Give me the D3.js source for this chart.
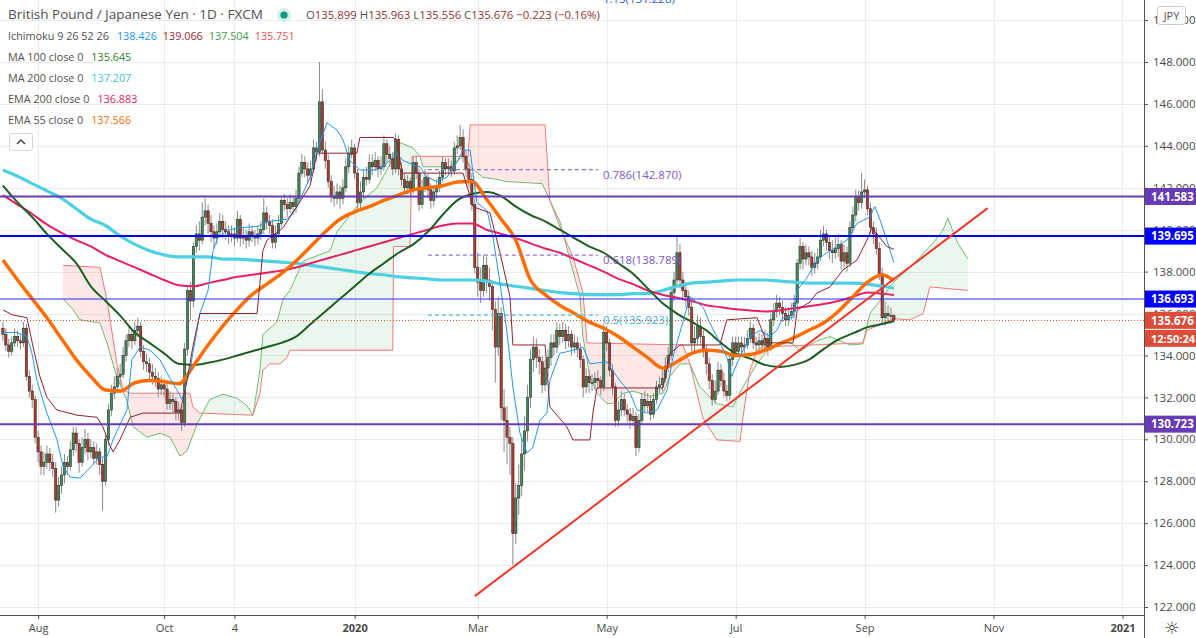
<!DOCTYPE html>
<html><head><meta charset="utf-8"><title>GBPJPY</title>
<script src="https://cdn.jsdelivr.net/npm/d3@7/dist/d3.min.js"></script>
<style>html,body{margin:0;padding:0;background:#fff;overflow:hidden}svg{display:block;font-family:"Open Sans","Noto Sans",sans-serif}</style>
</head><body><svg id="chart" width="1196" height="638"></svg>
<script>
// ---------------- DATA ----------------
const firstOpen = 135.3;
const closes = [
135.0,134.5,134.2,134.6,134.9,134.7,134.6,135.3,133.0,132.3,
131.9,130.1,129.4,128.7,128.9,129.3,128.9,128.6,127.1,127.8,
128.3,128.9,128.7,129.5,130.3,129.8,128.9,129.6,130.0,129.4,
129.6,129.1,129.4,128.8,128.0,130.0,131.4,132.2,132.5,133.0,
133.1,134.0,134.7,135.0,134.7,135.2,135.4,134.2,133.7,133.6,
133.2,133.0,132.9,132.4,132.6,132.4,131.7,131.9,131.8,131.3,
131.4,130.8,134.3,137.1,136.6,139.2,139.8,139.5,140.6,140.9,
140.3,139.9,139.6,139.9,140.4,140.0,139.9,139.7,139.8,139.6,
140.5,139.6,139.7,139.5,139.9,139.7,139.6,139.8,140.0,140.8,
140.4,140.2,139.4,139.8,140.3,141.4,141.2,141.0,141.3,141.1,
141.5,142.7,143.2,142.9,142.6,142.9,143.9,143.7,146.1,143.8,
143.3,142.3,141.6,141.5,141.8,141.5,142.0,143.0,143.6,143.9,
142.7,141.3,141.8,142.5,142.4,143.2,143.0,143.3,142.9,143.0,
144.1,143.6,143.4,142.9,144.3,142.9,142.4,142.0,142.3,141.9,
143.2,142.7,141.2,142.0,142.5,141.9,141.4,141.8,142.0,142.5,
143.2,142.9,143.0,142.8,143.9,144.0,144.4,143.5,142.9,142.4,
141.2,138.2,137.5,137.1,138.3,137.6,137.3,136.2,134.4,136.0,
131.5,130.9,130.1,129.8,125.5,127.2,127.8,129.3,130.4,132.0,
133.8,134.4,133.9,133.7,132.6,133.4,133.9,134.6,134.4,135.2,
134.9,135.2,134.7,135.0,134.4,134.6,134.3,133.8,132.5,133.0,
132.7,132.7,132.9,132.8,132.5,135.1,134.6,133.3,132.5,130.9,
131.4,131.9,131.4,131.2,130.9,131.1,129.6,130.9,131.9,131.6,
131.8,131.2,131.9,132.5,132.6,132.9,133.5,134.0,137.0,137.6,
138.9,137.6,137.1,136.8,136.3,134.6,134.8,135.4,134.9,134.3,
133.6,132.8,131.9,132.3,133.3,132.8,132.3,132.1,133.8,134.6,
134.2,134.6,134.4,134.5,134.8,135.3,134.6,134.5,134.7,134.5,
134.8,134.4,135.7,136.1,136.5,136.3,136.0,135.7,135.9,136.1,
136.5,138.4,139.2,138.6,138.9,138.7,138.2,138.4,138.7,139.5,
139.8,139.4,139.0,138.9,139.1,139.3,138.5,138.9,138.4,140.1,
140.7,141.6,141.3,141.8,141.9,141.0,140.1,139.8,139.1,137.9,
135.8,136.0,135.9,135.899,135.676];
const highs = [
135.6,135.3,134.8,134.9,135.3,135.2,135.0,135.6,135.5,133.3,
132.6,132.1,130.4,129.7,129.4,129.7,129.6,129.3,128.9,128.2,
128.7,129.3,129.2,129.9,130.6,130.6,130.0,130.1,130.5,130.3,
130.0,129.9,129.8,129.6,129.1,130.3,131.7,132.6,133.0,133.4,
133.6,134.4,135.0,135.4,135.3,135.6,135.8,135.6,134.5,134.1,
133.9,133.6,133.4,133.2,133.0,132.9,132.7,132.3,132.2,132.0,
131.8,131.6,134.6,137.3,137.5,139.4,140.2,140.4,141.3,141.5,
141.2,140.7,140.2,140.3,140.8,140.7,140.4,140.2,140.2,140.1,
140.9,140.7,140.1,140.0,140.3,140.2,140.0,140.2,140.4,141.5,
141.1,140.7,140.5,140.2,140.7,141.6,141.7,141.5,141.7,141.6,
141.9,143.0,143.6,143.5,143.2,143.3,144.3,144.2,148.0,146.7,
144.2,143.6,142.6,142.1,142.2,142.1,142.4,143.4,144.0,144.3,
144.1,142.9,142.3,142.9,143.0,143.6,143.6,143.7,143.5,143.5,
144.5,144.3,144.0,143.7,144.6,144.5,143.2,142.7,142.6,142.5,
143.5,143.5,142.9,142.4,142.9,142.7,142.2,142.1,142.4,142.8,
143.5,143.4,143.4,143.3,144.2,144.5,145.0,144.8,143.8,143.2,
142.7,141.5,138.9,138.2,138.8,138.7,138.2,137.6,136.6,136.8,
136.3,132.4,131.6,130.6,130.1,127.9,128.8,130.1,131.1,132.6,
134.3,134.9,134.8,134.3,134.0,133.8,134.3,135.0,135.0,135.6,
135.5,135.6,135.5,135.4,135.2,135.0,134.9,134.6,134.0,133.4,
133.3,133.1,133.2,133.3,133.0,135.5,135.4,134.8,133.6,132.7,
131.8,132.3,132.2,131.7,131.5,131.5,131.3,131.2,132.2,132.3,
132.2,132.1,132.2,132.8,133.0,133.3,133.9,134.4,137.3,138.0,
139.7,139.3,138.0,137.5,137.1,136.6,135.4,135.9,135.8,135.2,
134.5,133.9,133.1,132.8,133.7,133.6,133.2,132.6,134.1,134.9,
134.9,134.9,134.9,134.9,135.2,135.6,135.5,134.9,135.1,135.0,
135.2,135.1,136.0,136.5,136.9,136.8,136.6,136.3,136.3,136.5,
136.9,138.6,139.6,139.4,139.3,139.2,139.0,138.9,139.1,140.0,
140.2,140.0,139.7,139.5,139.7,139.8,139.5,139.3,139.2,140.4,
141.1,141.9,141.9,142.7,142.4,142.1,141.3,140.4,140.1,139.4,
138.2,136.6,136.4,136.3,135.963];
const lows = [
134.7,134.2,133.9,134.0,134.4,134.4,134.3,134.4,132.8,132.0,
131.5,129.8,128.9,128.3,128.3,128.6,128.5,128.2,126.5,126.8,
127.4,127.9,128.3,128.5,129.2,129.4,128.4,128.7,129.3,129.0,
129.1,128.8,128.8,128.3,126.6,127.8,129.7,131.1,131.9,132.2,
132.6,132.9,133.7,134.4,134.3,134.5,134.9,133.9,133.3,133.2,
132.8,132.6,132.5,132.0,132.1,132.0,131.4,131.4,131.3,130.9,
130.9,130.4,130.6,134.0,135.7,136.3,138.9,139.0,139.3,140.2,
139.8,139.4,139.1,139.3,139.6,139.6,139.5,139.3,139.4,139.2,
139.4,139.2,139.3,139.1,139.2,139.4,139.2,139.3,139.5,139.8,
140.0,139.8,139.1,139.1,139.6,140.1,140.9,140.6,140.8,140.7,
140.8,141.3,142.5,142.5,142.2,142.3,142.7,143.3,143.5,143.6,
142.9,142.0,141.3,141.1,141.2,141.0,141.2,141.8,142.7,143.4,
142.4,140.8,141.0,141.5,142.1,142.2,142.6,142.8,142.5,142.6,
142.8,143.2,143.0,142.6,142.7,142.6,142.1,141.7,141.7,141.6,
141.7,142.4,140.9,141.0,141.8,141.5,141.0,141.1,141.5,141.8,
142.3,142.6,142.6,142.5,142.6,143.6,143.8,143.2,142.5,142.0,
140.9,137.9,136.8,136.5,136.8,137.0,136.6,135.2,132.7,134.0,
130.9,129.4,128.8,128.3,124.0,125.0,126.4,127.3,128.5,129.9,
131.5,133.2,133.4,133.1,132.2,132.3,133.0,133.5,134.0,134.1,
134.5,134.6,134.3,134.4,134.0,134.1,133.9,133.4,132.0,132.2,
132.2,132.3,132.4,132.4,132.1,132.3,134.2,133.0,132.1,130.6,
130.6,131.1,131.1,130.8,130.5,130.6,129.2,129.4,130.7,131.3,
131.3,130.9,131.0,131.7,132.2,132.3,132.7,133.2,133.8,136.6,
137.3,137.2,136.6,136.3,135.9,134.2,134.2,134.5,134.5,133.9,
133.1,132.4,131.6,131.7,132.1,132.5,132.0,131.8,131.9,133.5,
133.9,134.0,134.1,134.1,134.3,134.6,134.3,134.2,134.2,134.2,
134.3,134.0,134.2,135.4,135.8,135.9,135.6,135.4,135.4,135.7,
135.8,136.3,138.1,138.1,138.3,138.3,137.8,137.9,138.1,138.5,
139.2,139.0,138.6,138.4,138.6,138.7,138.1,138.2,138.0,138.2,
139.8,140.4,140.9,141.0,141.5,140.7,139.8,139.3,138.8,137.6,
135.5,135.4,135.5,135.5,135.556];

// moving averages, read every 5 bars (bar index given by sampleIdx)
const sampleIdx = [0,5,10,15,20,25,30,35,40,45,50,55,60,65,70,75,80,85,90,95,100,105,110,115,120,125,130,135,140,145,150,155,160,165,170,175,180,185,190,195,200,205,210,215,220,225,230,235,240,245,250,255,260,265,270,275,280,285,290,295,300,304];
const ma200 = [142.85,142.55,142.2,141.85,141.5,141.0,140.5,140.2,139.7,139.3,139.0,138.8,138.7,138.7,138.7,138.6,138.6,138.55,138.5,138.45,138.4,138.3,138.2,138.1,138.0,137.9,137.85,137.75,137.7,137.65,137.6,137.6,137.6,137.55,137.4,137.3,137.2,137.1,137.0,136.95,136.9,136.9,136.9,136.95,136.95,137.1,137.3,137.45,137.5,137.55,137.6,137.6,137.6,137.55,137.5,137.45,137.45,137.45,137.45,137.4,137.3,137.207];
const ema200 = [141.65,141.2,140.75,140.25,139.85,139.5,139.2,138.8,138.5,138.2,137.9,137.6,137.35,137.3,137.45,137.6,137.75,137.85,137.95,138.05,138.2,138.4,138.6,138.8,139.0,139.2,139.4,139.6,139.8,140.0,140.2,140.3,140.3,140.0,139.8,139.6,139.35,139.1,138.9,138.6,138.3,138.0,137.65,137.4,137.1,136.9,136.75,136.6,136.4,136.3,136.2,136.15,136.1,136.15,136.25,136.35,136.45,136.6,136.8,137.0,136.95,136.883];
const ma100 = [142.1,141.3,140.6,139.8,139.1,138.4,137.3,136.6,135.9,135.1,134.6,134.1,133.6,133.55,133.65,133.8,134.0,134.2,134.4,134.6,134.9,135.5,136.1,136.7,137.3,137.9,138.4,138.9,139.3,139.9,140.7,141.4,141.7,141.8,141.6,141.1,140.7,140.4,140.0,139.6,139.2,138.9,138.4,137.9,137.2,136.5,136.0,135.6,135.2,134.6,134.1,133.85,133.55,133.45,133.55,133.8,134.3,134.75,135.05,135.35,135.5,135.645];
const ema55 = [138.55,137.6,136.7,135.8,134.8,133.8,133.0,132.35,132.3,132.7,132.8,132.75,132.65,133.5,134.5,135.4,136.2,136.9,137.4,137.9,138.5,139.2,139.9,140.5,140.85,141.1,141.4,141.65,141.9,142.0,142.1,142.27,142.3,141.45,140.5,139.5,137.6,136.9,136.4,136.0,135.6,135.3,134.9,134.4,133.9,133.4,133.7,134.1,134.25,134.2,134.0,134.05,134.25,134.55,134.85,135.2,135.55,136.1,136.8,137.5,137.85,137.566];

// Ichimoku 9 26 52 26 : [bar index, price]
const tenkan = [[0,135.1],[4.8,135.1],[8.2,134.9],[9.9,134.1],[11.6,132.8],[15,131.25],[18.4,130.0],[20.5,128.7],[22.9,128.2],[26.3,128.15],[28.7,128.5],[33,129.15],[35.5,129.15],[37.6,130.0],[42.3,131.4],[44,133.8],[46.8,134.4],[50.2,134.25],[53.6,133.8],[56,133.15],[59.4,132.35],[61.1,131.9],[63.8,133.3],[67.2,136.0],[70,137.1],[71.7,139.0],[73.4,139.65],[77.5,140.0],[80.9,140.1],[86.7,140.15],[91.1,140.4],[97,140.5],[100.3,141.1],[102.4,141.75],[104.8,142.5],[107.2,143.8],[110.6,145.1],[114,144.75],[116,144.3],[118.4,143.3],[121.8,142.85],[127.6,142.85],[129.7,143.0],[134.4,143.65],[136.5,143.3],[139.9,143.1],[142.3,143.0],[144.7,142.5],[148.1,142.3],[151.5,142.5],[154.9,143.2],[157,143.8],[159.4,143.8],[161.7,141.3],[165.2,140.9],[167.2,139.65],[169.6,137.45],[172,135.1],[174,132.5],[176.4,130.3],[178.8,129.35],[180.8,129.6],[183.2,130.9],[185.6,131.25],[186.6,132.8],[190,134.1],[194.5,134.25],[197.9,134.4],[200.3,133.6],[206,133.7],[208,133.3],[210.5,132.8],[214,132.2],[216.3,131.4],[219.7,131.25],[223.2,131.4],[226.6,132.35],[228.6,133.9],[231,135.1],[234.4,136.8],[238.9,136.3],[241.2,135.55],[243.6,134.9],[247,133.9],[248.7,133.0],[250.4,133.6],[252.5,134.25],[254.9,134.9],[258.3,135.2],[261.7,134.9],[264.1,135.2],[266.1,135.8],[269.6,135.8],[271,137.1],[274.3,137.7],[277.7,138.55],[281.2,138.9],[284.6,139.2],[288,139.5],[291.4,140.3],[295.8,140.6],[297.5,141.1],[299.2,140.5],[301.6,139.5],[304,138.426]];
const kijun = [[0,136.17],[3.4,135.93],[8.2,135.8],[10.3,134.4],[12.6,133.0],[15,132.0],[18.4,131.4],[25.3,131.15],[32.1,131.05],[34.1,130.6],[36.5,129.7],[37.6,129.4],[40,130.0],[43.4,131.05],[47.8,131.25],[60.4,131.25],[62.8,132.8],[64.8,134.4],[67.2,136.0],[86.7,136.0],[87.7,137.45],[88.7,139.0],[90.1,139.5],[95.6,140.1],[100.3,141.1],[104.8,142.1],[107.2,143.65],[120.8,143.65],[121.8,144.4],[133.1,144.4],[134.4,144.3],[136.2,142.7],[157,142.7],[160.4,141.1],[166.2,140.8],[169.6,138.9],[173,136.8],[174,134.5],[185,134.5],[186.6,131.55],[192.4,130.6],[194.5,129.97],[200.3,129.97],[201.3,131.25],[202.7,132.45],[225.2,132.45],[227.6,134.1],[231,134.5],[244.6,134.5],[247,135.7],[257.3,135.8],[260.7,134.6],[269.6,134.6],[271,136.17],[275.4,136.55],[277.7,136.98],[282.2,137.27],[286.6,138.08],[291.4,138.55],[294.8,139.5],[296.5,140.1],[301.6,139.2],[304,139.066]];
const spanA = [[20.5,136.7],[23.9,136.2],[26.3,135.7],[33.1,135.55],[35.5,134.6],[38.9,132.95],[42.3,131.85],[44.4,130.6],[49.2,130.1],[53.6,130.3],[57,130.1],[60.4,129.2],[62.8,129.45],[66.2,130.7],[68.3,131.3],[70.6,131.9],[75.1,132.15],[80,131.95],[83.3,131.6],[85.3,131.15],[87.7,133.3],[88.7,135.0],[91.1,135.3],[93.5,135.6],[95.6,136.7],[97.9,137.1],[102.4,138.5],[111.6,139.0],[114,139.9],[121.8,141.3],[127.6,142.0],[132,143.1],[134.4,144.0],[135.5,144.15],[139.9,143.9],[142.3,143.5],[143.3,143.0],[152.5,143.0],[157,143.5],[159.4,143.0],[163.8,142.5],[168.6,142.4],[171.4,142.3],[184,142.2],[186.6,141.4],[190,140.4],[193.5,138.55],[196.9,136.8],[197.9,134.9],[200.3,133.0],[202.7,132.2],[206.1,131.7],[208.1,131.7],[211.6,132.2],[215,132.3],[220.8,132.05],[225.2,132.2],[227.6,133.0],[231,133.6],[234.4,133.6],[237.8,132.5],[243.6,131.7],[249,131.55],[252.5,132.5],[257.3,133.6],[261.7,134.4],[266.1,134.7],[269.6,134.55],[272,134.2],[277.7,134.7],[282.2,134.9],[285.6,134.7],[289,134.5],[293.4,134.55],[295.8,136.0],[299.2,136.6],[302.6,137.27],[304,137.504],[307.1,137.9],[311.9,138.55],[317.3,139.35],[320.7,139.97],[322.4,140.55],[325.8,139.35],[329.3,138.6]];
const spanB = [[20.5,138.3],[33.1,138.2],[35.5,136.65],[38.9,133.6],[41,132.35],[43.4,132.2],[63.8,132.2],[64.8,131.55],[67.2,131.25],[85.3,131.15],[87.7,132.2],[88.7,133.3],[91.1,133.6],[94.5,133.6],[96.9,133.9],[97.9,134.25],[133,134.25],[133.3,139.2],[138.9,139.2],[139.6,143.5],[158.7,143.5],[159.4,145.0],[185,145.0],[186.6,141.4],[191,139.8],[194.5,138.7],[197.9,137.0],[199.3,134.6],[232,134.5],[234.4,133.6],[236.8,132.2],[238.9,131.0],[243.6,129.97],[251.5,129.9],[252.5,131.05],[253.9,132.35],[254.9,133.3],[257.3,134.25],[259.3,134.4],[293.4,134.6],[294.8,135.2],[304,135.751],[309.5,135.7],[314,136.0],[316.3,137.27],[329.3,137.1]];

const priceTicks = [122,124,126,128,130,132,134,136,138,140,142,144,146,148,150];
const dateIdx = [12,55,79,120,162,206,250,294,338,382];
const dateLabels = ["Aug","Oct","4","2020","Mar","May","Jul","Sep","Nov","2021"];
const levels = [141.583,139.695,136.693,130.723];
const fibRatios = ["1.13","0.786","0.618","0.5"];
const fibPrices = [151.228,142.870,138.789,135.923];
const fibSpan = [145,203];
const trendPts = [[161,122.52],[336,141.03]];
const lastPrice = 135.676;
const countdown = "12:50:24";
const titleText = "British Pound / Japanese Yen · 1D · FXCM";
const ohlcKeys = ["O","H","L","C"];
const ohlcVals = ["135.899","135.963","135.556","135.676"];
const changeText = "−0.223 (−0.16%)";
const ichiLabel = "Ichimoku 9 26 52 26";
const ichiVals = ["138.426","139.066","137.504","135.751"];
const maLabels = ["MA 100 close 0","MA 200 close 0","EMA 200 close 0","EMA 55 close 0"];
const maVals = ["135.645","137.207","136.883","137.566"];

// ---------------- STYLE ----------------
const C = {
  grid:'#ebebeb', axis:'#505050', text:'#4a4a4a',
  up:'#3e8a58', down:'#b3382b', border:'#2a2a2a', wick:'#8a8a8a',
  ma200:'#4DD0E1', ema200:'#E91E63', ma100:'#1B5E20', ema55:'#FF6D00',
  tenkan:'#2196F3', kijun:'#8B2330', spanA:'#6DBB70', spanB:'#F07A7A',
  cloudUp:'rgba(76,175,80,0.11)', cloudDn:'rgba(244,67,54,0.12)',
  purple:'#673AB7', blue:'#0000FF', blue2:'#2a2aff', red:'#DD4B39', trend:'#F2362A',
  fib:['#3559E6','#7E57C2','#7E57C2','#3DB5D3'], fibLine:['#3559E6','#9575CD','#9575CD','#4DC3DA']
};
const levelColors = [C.purple, C.blue, C.blue2, C.purple];
const levelWidths = [2, 2, 1.2, 2];

// ---------------- CHART ----------------
const svg = d3.select('#chart');
const plotR = 1144, plotB = 615;
const x = d3.scaleLinear().domain([-1,389]).range([0,1143]);
const y = d3.scaleLinear().domain([122,148]).range([607,62]);

const defs = svg.append('defs');
defs.append('clipPath').attr('id','plotClip').append('rect').attr('x',0).attr('y',0).attr('width',plotR).attr('height',plotB);

// grid
const grid = svg.append('g');
grid.selectAll('line.h').data(priceTicks).join('line').attr('x1',0).attr('x2',plotR)
  .attr('y1',d=>Math.round(y(d))+0.5).attr('y2',d=>Math.round(y(d))+0.5).attr('stroke',C.grid);
grid.selectAll('line.v').data(dateIdx).join('line').attr('y1',0).attr('y2',plotB)
  .attr('x1',d=>Math.round(x(d))+0.5).attr('x2',d=>Math.round(x(d))+0.5).attr('stroke',C.grid);

const plot = svg.append('g').attr('clip-path','url(#plotClip)');

// Ichimoku cloud: green where A above B, red where B above A
const aboveArea = d3.area().x(d=>x(d[0])).y0(0).y1(d=>y(d[1]));
const belowArea = d3.area().x(d=>x(d[0])).y0(plotB).y1(d=>y(d[1]));
defs.append('clipPath').attr('id','aboveB').append('path').attr('d',aboveArea(spanB));
defs.append('clipPath').attr('id','aboveA').append('path').attr('d',aboveArea(spanA));
plot.append('path').attr('d',belowArea(spanA)).attr('fill',C.cloudUp).attr('clip-path','url(#aboveB)');
plot.append('path').attr('d',belowArea(spanB)).attr('fill',C.cloudDn).attr('clip-path','url(#aboveA)');
const lineGen = d3.line().x(d=>x(d[0])).y(d=>y(d[1]));
plot.append('path').attr('d',lineGen(spanA)).attr('fill','none').attr('stroke',C.spanA).attr('stroke-width',1);
plot.append('path').attr('d',lineGen(spanB)).attr('fill','none').attr('stroke',C.spanB).attr('stroke-width',1);

// candles
const bars = closes.map((c,i)=>({i, o: i===0?firstOpen:closes[i-1], c, h:highs[i], l:lows[i]}));
const cg = plot.append('g');
cg.selectAll('line.wick').data(bars).join('line')
  .attr('x1',d=>x(d.i)).attr('x2',d=>x(d.i)).attr('y1',d=>y(d.h)).attr('y2',d=>y(d.l))
  .attr('stroke',C.wick).attr('stroke-width',1);
cg.selectAll('rect').data(bars).join('rect')
  .attr('x',d=>x(d.i)-1.15).attr('width',2.3)
  .attr('y',d=>y(Math.max(d.o,d.c)))
  .attr('height',d=>Math.max(0.8, Math.abs(y(d.o)-y(d.c))))
  .attr('fill',d=>d.c>=d.o?C.up:C.down).attr('stroke',C.border).attr('stroke-width',0.55);

// moving averages
const smooth = d3.line().x(d=>x(d[0])).y(d=>y(d[1])).curve(d3.curveMonotoneX);
const zipS = arr => sampleIdx.map((k,j)=>[k,arr[j]]);
plot.append('path').attr('d',smooth(zipS(ma200))).attr('fill','none').attr('stroke',C.ma200).attr('stroke-width',3.2);
plot.append('path').attr('d',smooth(zipS(ema200))).attr('fill','none').attr('stroke',C.ema200).attr('stroke-width',2);
plot.append('path').attr('d',smooth(zipS(ma100))).attr('fill','none').attr('stroke',C.ma100).attr('stroke-width',2);
plot.append('path').attr('d',smooth(zipS(ema55))).attr('fill','none').attr('stroke',C.ema55).attr('stroke-width',3.5);
plot.append('path').attr('d',lineGen(tenkan)).attr('fill','none').attr('stroke',C.tenkan).attr('stroke-width',1);
plot.append('path').attr('d',lineGen(kijun)).attr('fill','none').attr('stroke',C.kijun).attr('stroke-width',1);

// fib lines
fibPrices.forEach((p,k)=>{
  plot.append('line').attr('x1',x(fibSpan[0])).attr('x2',x(fibSpan[1])).attr('y1',y(p)).attr('y2',y(p))
    .attr('stroke',C.fibLine[k]).attr('stroke-width',1.3).attr('stroke-dasharray','4,3');
  plot.append('text').attr('x',x(fibSpan[1])+5).attr('y',y(p)+9).attr('fill',C.fib[k])
    .style('font-size','11.5px').text(`${fibRatios[k]}(${p.toFixed(3)})`);
});

// horizontal levels
levels.forEach((v,k)=>{
  plot.append('line').attr('x1',0).attr('x2',plotR).attr('y1',y(v)).attr('y2',y(v))
    .attr('stroke',levelColors[k]).attr('stroke-width',levelWidths[k]);
});
// trend line
plot.append('line').attr('x1',x(trendPts[0][0])).attr('y1',y(trendPts[0][1]))
  .attr('x2',x(trendPts[1][0])).attr('y2',y(trendPts[1][1])).attr('stroke',C.trend).attr('stroke-width',2);
// last price
plot.append('line').attr('x1',0).attr('x2',plotR).attr('y1',Math.round(y(lastPrice))+0.5).attr('y2',Math.round(y(lastPrice))+0.5)
  .attr('stroke',C.red).attr('stroke-width',1).attr('stroke-dasharray','1,2');

// axes
const yAxis = d3.axisRight(y).tickValues(priceTicks).tickFormat(d3.format('.3f')).tickSize(4).tickPadding(5);
const gy = svg.append('g').attr('transform',`translate(${plotR},0)`).call(yAxis);
gy.select('.domain').remove();
gy.selectAll('line').attr('stroke',C.axis);
gy.selectAll('text').attr('fill',C.text).style('font-size','11.5px').style('font-family','"Open Sans",sans-serif');
const xAxis = d3.axisBottom(x).tickValues(dateIdx).tickFormat((d,i)=>dateLabels[i]).tickSize(4).tickPadding(5);
const gx = svg.append('g').attr('transform',`translate(0,${plotB})`).call(xAxis);
gx.select('.domain').remove();
gx.selectAll('line').attr('stroke',C.axis);
gx.selectAll('text').attr('fill',C.text).style('font-size','11px').style('font-family','"Open Sans",sans-serif')
  .style('font-weight',(d,i)=>/^\d{4}$/.test(dateLabels[i])?'700':'400');
svg.append('line').attr('x1',0).attr('x2',plotR).attr('y1',plotB+0.5).attr('y2',plotB+0.5).attr('stroke',C.axis);
svg.append('line').attr('x1',plotR+0.5).attr('x2',plotR+0.5).attr('y1',0).attr('y2',638).attr('stroke',C.axis);

// price labels
function priceBox(label, color, yy, fsz){
  const g = svg.append('g');
  g.append('rect').attr('x',plotR+1).attr('y',yy-8.5).attr('width',1196-plotR-1).attr('height',17).attr('fill',color);
  g.append('text').attr('x',plotR+7).attr('y',yy+4.2).attr('fill','#fff').style('font-size',(fsz||11.5)+'px').style('font-weight','700').text(label);
}
levels.forEach((v,k)=>priceBox(v.toFixed(3), levelColors[k]===C.blue2?C.blue:levelColors[k], y(v)));
priceBox(lastPrice.toFixed(3), C.red, y(lastPrice));
priceBox(countdown, C.red, y(lastPrice)+18, 11);

// JPY badge
svg.append('rect').attr('x',1157.5).attr('y',6.5).attr('width',28).attr('height',18).attr('rx',3).attr('fill','#fff').attr('stroke','#c8c8c8');
svg.append('text').attr('x',1171.5).attr('y',19.5).attr('text-anchor','middle').attr('fill','#555').style('font-size','11px').text('JPY');
// settings glyph
svg.append('text').attr('x',1172).attr('y',634).attr('text-anchor','middle').attr('fill','#333').style('font-size','17px').style('font-family','"DejaVu Sans",sans-serif').text('☼');

// legend
const lg = svg.append('g');
const gray = '#505050', valRed = '#8E3232';
function fit(sel, target){ const len = sel.node().getComputedTextLength(); const fs = parseFloat(sel.style('font-size')); sel.style('font-size',(fs*target/len).toFixed(2)+'px'); return fs*target/len; }
const t1 = lg.append('text').attr('x',8).attr('y',19).attr('fill',gray).style('font-size','13px').text(titleText);
fit(t1,255);
lg.append('circle').attr('cx',284).attr('cy',15).attr('r',7).attr('fill','#d7efe9');
lg.append('circle').attr('cx',284).attr('cy',15).attr('r',3.6).attr('fill','#089981');
const t2 = lg.append('text').attr('x',306).attr('y',19).style('font-size','12px');
ohlcKeys.forEach((k,i)=>{ t2.append('tspan').attr('fill',gray).text((i?' ':'')+k); t2.append('tspan').attr('fill',valRed).text(ohlcVals[i]); });
t2.append('tspan').attr('fill',valRed).text(' '+changeText);
fit(t2,294);

const ichiColors = [C.tenkan,'#A0282F','#43A047','#EF5350'];
const maColors = ['#2E7D32','#3FC1D6',C.ema200,C.ema55];
const probe = lg.append('text').attr('x',8).attr('y',40).attr('fill',gray).style('font-size','12px').text(ichiLabel);
const fs = fit(probe,101);
function rowVals(startX, yy, vals, cols){
  let xx = startX;
  vals.forEach((v,j)=>{ const t = lg.append('text').attr('x',xx).attr('y',yy).attr('fill',cols[j]).style('font-size',fs+'px').text(v); xx += t.node().getComputedTextLength()+6; });
}
rowVals(8+probe.node().getComputedTextLength()+8, 40, ichiVals, ichiColors);
maLabels.forEach((lab,k)=>{
  const yy = 61 + k*21;
  const t = lg.append('text').attr('x',8).attr('y',yy).attr('fill',gray).style('font-size',fs+'px').text(lab);
  rowVals(8+t.node().getComputedTextLength()+8, yy, [maVals[k]], [maColors[k]]);
});
// collapse button
lg.append('rect').attr('x',9.5).attr('y',133.5).attr('width',23).attr('height',17).attr('rx',2).attr('fill','#fff').attr('stroke','#d6d6d6');
lg.append('path').attr('d','M17 144 L21 140 L25 144').attr('fill','none').attr('stroke','#333').attr('stroke-width',1.3);
</script></body></html>
